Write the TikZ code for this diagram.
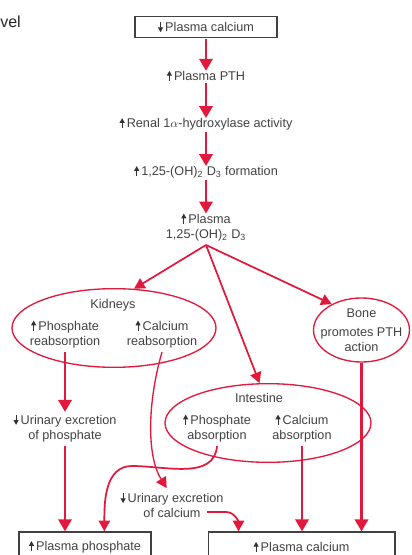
\documentclass[tikz,border=0pt]{standalone}
\usepackage{fontspec}
\setmainfont{Liberation Sans}
\usepackage{tikz}
\usetikzlibrary{shapes.geometric, arrows.meta, positioning, calc}

\definecolor{pthred}{RGB}{225,25,60}
\definecolor{txtgray}{RGB}{65,65,65}
\newcommand{\incr}{\tikz[baseline=0pt]\draw[black!80, line width=0.7pt, -{Triangle[width=3.8pt,length=3.6pt]}] (0pt,-0.5pt) -- (0pt,7.2pt);\,}
\newcommand{\decr}{\tikz[baseline=0pt]\draw[black!80, line width=0.7pt, -{Triangle[width=3.8pt,length=3.6pt]}] (0pt,7.2pt) -- (0pt,-0.5pt);\,}

\tikzset{
  lbl/.style={font=\fontsize{9.5}{11.3}\selectfont, text=txtgray, align=center, inner sep=0pt},
  plasmabox/.style={lbl, draw=txtgray, line width=1pt},
  organ/.style={ellipse, draw=pthred, line width=1pt, inner sep=0pt},
  bigarrow/.style={draw=pthred, line width=1.9pt, -{Triangle[width=10pt,length=9pt]}},
  thinarrow/.style={draw=pthred, line width=1.3pt, -{Triangle[width=8.5pt,length=8pt]}}
}

\begin{document}
\begin{tikzpicture}[x=0.75pt, y=-0.75pt]
\useasboundingbox (0,0) rectangle (411,555);
\clip (0,0) rectangle (411,555);

% heading remnant
\node[font=\fontsize{12}{14}\selectfont, text=black!85, anchor=west, inner sep=0pt] (head) at (0,22) {vel};

% main chain
\node[plasmabox, minimum width=106.5pt, minimum height=15.75pt] (ca0) at (206,27) {\decr Plasma calcium};
\node[lbl] (pth) at (206,76) {\incr Plasma PTH};
\node[lbl] (hydrox) at (206,124) {\incr Renal 1$\alpha$-hydroxylase activity};
\node[lbl] (form) at (206,172) {\incr 1,25-(OH)\textsubscript{2} D\textsubscript{3} formation};
\node[lbl] (vitd) at (206,227) {\incr Plasma\\1,25-(OH)\textsubscript{2} D\textsubscript{3}};
\foreach \a/\b in {ca0/pth, pth/hydrox, hydrox/form, form/vitd}
  \draw[bigarrow, shorten <=1pt, shorten >=-0.5pt] (\a) -- (\b);
\coordinate (split) at (206,245);

% kidneys
\node[organ, minimum width=153pt, minimum height=59pt] (kidneys) at (114,328) {};
\node[lbl] (kidlbl) at (113,305) {Kidneys};
\node[lbl] (phreab) at (65,334) {\incr Phosphate\\reabsorption};
\node[lbl] (careab) at (162,334) {\incr Calcium\\reabsorption};

% bone
\node[organ, minimum width=72pt, minimum height=48pt] (bone) at (361.5,330) {};
\node[lbl] (bonelbl) at (361.5,313) {Bone};
\node[lbl] (boneact) at (361.5,340) {promotes PTH\\action};

% intestine
\node[organ, minimum width=154.5pt, minimum height=59pt] (intestine) at (268,423) {};
\node[lbl] (intlbl) at (259,398) {Intestine};
\node[lbl] (phabs) at (217,428) {\incr Phosphate\\absorption};
\node[lbl] (caabs) at (302,428) {\incr Calcium\\absorption};

% urine
\node[lbl] (urph) at (65,428) {\decr Urinary excretion\\of phosphate};
\node[lbl] (urca) at (172,505) {\decr Urinary excretion\\of calcium};
\coordinate (urcaout) at (207,512);

% plasma levels
\node[plasmabox, minimum width=99pt, minimum height=22.5pt] (plph) at (85,547) {\incr Plasma phosphate};
\node[plasmabox, minimum width=140pt, minimum height=22.5pt] (plca) at (301.5,547) {\incr Plasma calcium};

% connectors
\draw[thinarrow] (split) -- (kidneys.63);
\draw[thinarrow] (split) -- (intestine.102);
\draw[thinarrow] (split) -- (bone.139);

\draw[bigarrow, shorten <=3pt, shorten >=1.5pt] (phreab) -- (urph);
\draw[bigarrow, shorten <=3pt] (urph.south) -- (urph.south |- plph.north);
\draw[thinarrow, line width=1pt] ([yshift=-3pt]careab.south) .. controls (148,400) and (146,455) .. ([xshift=-4pt,yshift=3pt]urca.north);
\draw[thinarrow] ([yshift=-3pt]phabs.south) to[out=-95,in=0] (132,466) to[out=180,in=90] ($(plph.north west)+(86,0)$);
\draw[thinarrow] (urcaout) -- (226,512) to[out=0,in=90] ($(plca.north west)+(31,0)$);
\draw[bigarrow, shorten <=3pt] (caabs.south) -- (caabs.south |- plca.north);
\draw[bigarrow] (bone.south) -- (bone.south |- plca.north);
\end{tikzpicture}
\end{document}
